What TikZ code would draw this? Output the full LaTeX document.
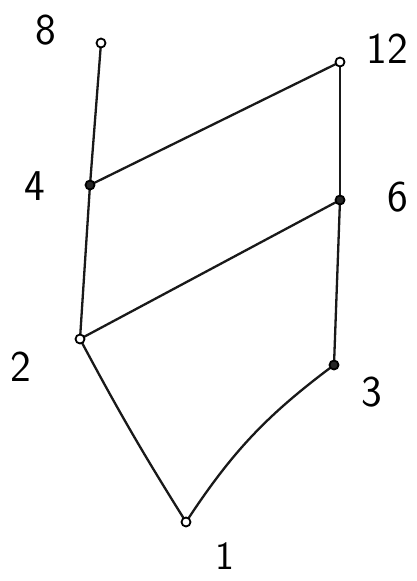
\documentclass[tikz,border=0pt]{standalone}
\begin{document}
\begin{tikzpicture}[x=1pt,y=-1pt,
  vtx/.style={circle,draw=black,line width=1.8pt,inner sep=0pt,minimum size=9pt,fill=white},
  vtxf/.style={vtx,fill=black!85},
  lbl/.style={font=\sffamily\fontsize{44}{44}\selectfont,inner sep=0pt},
  edge/.style={line width=2.3pt,line cap=round,black!90}]
\useasboundingbox[fill=white] (0,0) rectangle (417,581);
% vertices
\coordinate (p8) at (101,43);
\coordinate (p12) at (340,62);
\coordinate (p4) at (90,185);
\coordinate (p6) at (340,200);
\coordinate (p2) at (80,339);
\coordinate (p3) at (334,365);
\coordinate (p1) at (186,522);
% edges
\draw[edge] (p8) -- (p4);
\draw[edge] (p4) -- (p2);
\draw[edge] (p4) -- (p12);
\draw[edge] (p12) -- (p6);
\draw[edge] (p6) -- (p2);
\draw[edge] (p6) -- (p3);
\draw[edge] (p2) to[bend right=2] (p1);
\draw[edge] (p3) to[bend right=10] (p1);
% vertex marks
\node[vtx] (v8) at (p8) {};
\node[vtx] (v12) at (p12) {};
\node[vtxf] (v4) at (p4) {};
\node[vtxf] (v6) at (p6) {};
\node[vtx] (v2) at (p2) {};
\node[vtxf] (v3) at (p3) {};
\node[vtx] (v1) at (p1) {};
% labels
\node[lbl] (l8) at (46,30) {8};
\node[lbl] (l12) at (387,49) {12};
\node[lbl] (l4) at (35,186) {4};
\node[lbl] (l6) at (398,197) {6};
\node[lbl] (l2) at (21,367) {2};
\node[lbl] (l3) at (372,392) {3};
\node[lbl,font=\sffamily\fontsize{40}{40}\selectfont] (l1) at (225,556) {1};
\end{tikzpicture}
\end{document}
